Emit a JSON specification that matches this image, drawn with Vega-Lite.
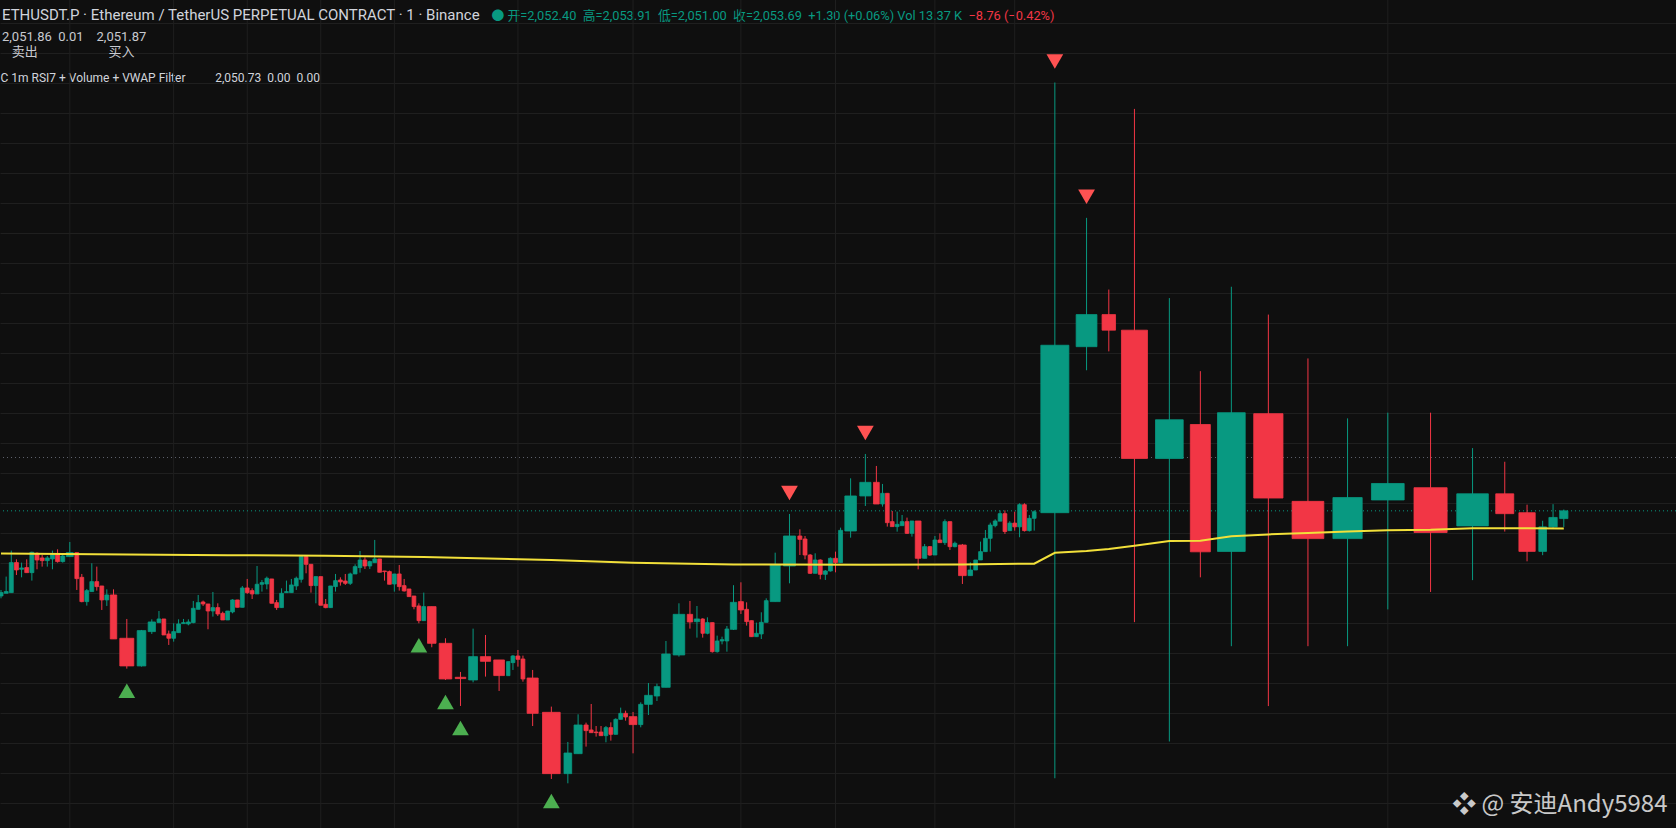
{
  "$schema": "https://vega.github.io/schema/vega-lite/v6.json",
  "description": "ETHUSDT.P 1m volume candles with VWAP and RSI7 signals",
  "width": 1676,
  "height": 828,
  "autosize": {"type": "none"},
  "padding": 0,
  "background": "#0f0f0f",
  "title": {
    "text": "ETHUSDT.P · Ethereum / TetherUS PERPETUAL CONTRACT · 1 · Binance",
    "subtitle": ["2,051.86\u00a0\u00a00.01\u00a0\u00a0\u00a0\u00a02,051.87", "\u200c\u00a0\u00a0\u00a0卖出\u00a0\u00a0\u00a0\u00a0\u00a0\u00a0\u00a0\u00a0\u00a0\u00a0\u00a0\u00a0\u00a0\u00a0\u00a0\u00a0\u00a0\u00a0\u00a0\u00a0\u00a0\u00a0买入"],
    "orient": "top",
    "anchor": "start",
    "frame": "group",
    "offset": -59,
    "dx": 2,
    "font": "Roboto, 'Noto Sans CJK SC'",
    "fontSize": 15,
    "fontWeight": "normal",
    "color": "#d1d4dc",
    "subtitleFont": "Roboto, 'Noto Sans CJK SC'",
    "subtitleFontSize": 13,
    "subtitleLineHeight": 15,
    "subtitlePadding": 8,
    "subtitleColor": "#c8cad0"
  },
  "data": {
    "values": [
      {"i": 1, "o": 2039.5, "h": 2040.5, "l": 2039.11, "c": 2040.06, "v": 6.43, "vw": 2046.6},
      {"i": 2, "o": 2039.95, "h": 2042.73, "l": 2039.95, "c": 2040.23, "v": 6.43},
      {"i": 3, "o": 2040.06, "h": 2047.06, "l": 2040.06, "c": 2045.06, "v": 6.43},
      {"i": 4, "o": 2045.06, "h": 2045.61, "l": 2043.0, "c": 2043.84, "v": 6.43},
      {"i": 5, "o": 2043.95, "h": 2045.06, "l": 2042.61, "c": 2044.17, "v": 6.43},
      {"i": 6, "o": 2044.23, "h": 2045.61, "l": 2043.39, "c": 2043.39, "v": 6.43},
      {"i": 7, "o": 2043.39, "h": 2046.89, "l": 2042.06, "c": 2046.78, "v": 6.43},
      {"i": 8, "o": 2046.61, "h": 2046.78, "l": 2043.95, "c": 2045.5, "v": 6.43},
      {"i": 9, "o": 2045.84, "h": 2046.34, "l": 2044.39, "c": 2045.39, "v": 6.43},
      {"i": 10, "o": 2045.39, "h": 2046.17, "l": 2044.39, "c": 2045.84, "v": 6.43},
      {"i": 11, "o": 2045.67, "h": 2047.06, "l": 2043.95, "c": 2046.34, "v": 6.43},
      {"i": 12, "o": 2046.34, "h": 2047.28, "l": 2045.06, "c": 2045.23, "v": 6.43},
      {"i": 13, "o": 2045.23, "h": 2046.61, "l": 2045.06, "c": 2046.17, "v": 6.43},
      {"i": 14, "o": 2046.06, "h": 2048.5, "l": 2046.06, "c": 2046.73, "v": 11.25},
      {"i": 15, "o": 2046.73, "h": 2046.73, "l": 2040.5, "c": 2042.39, "v": 6.25},
      {"i": 16, "o": 2042.61, "h": 2043.17, "l": 2038.45, "c": 2038.56, "v": 6.25},
      {"i": 17, "o": 2038.56, "h": 2040.67, "l": 2037.89, "c": 2040.39, "v": 6.25},
      {"i": 18, "o": 2040.23, "h": 2044.95, "l": 2040.23, "c": 2041.89, "v": 6.25},
      {"i": 19, "o": 2041.89, "h": 2044.39, "l": 2040.39, "c": 2041.06, "v": 6.25},
      {"i": 20, "o": 2041.17, "h": 2041.17, "l": 2037.17, "c": 2038.84, "v": 6.25},
      {"i": 21, "o": 2038.84, "h": 2040.61, "l": 2037.84, "c": 2039.67, "v": 6.25},
      {"i": 22, "o": 2039.67, "h": 2040.61, "l": 2032.34, "c": 2032.34, "v": 10.5},
      {"i": 23, "o": 2032.45, "h": 2035.67, "l": 2027.39, "c": 2027.84, "v": 22.75, "sig": "B", "vw": 2046.4},
      {"i": 24, "o": 2027.84, "h": 2033.84, "l": 2027.73, "c": 2033.73, "v": 14},
      {"i": 25, "o": 2033.56, "h": 2035.61, "l": 2033.17, "c": 2035.17, "v": 11.75},
      {"i": 26, "o": 2035.06, "h": 2037.0, "l": 2035.06, "c": 2035.67, "v": 6.13},
      {"i": 27, "o": 2035.67, "h": 2035.67, "l": 2033.0, "c": 2033.0, "v": 6.13},
      {"i": 28, "o": 2033.17, "h": 2033.73, "l": 2031.34, "c": 2032.45, "v": 6.13},
      {"i": 29, "o": 2032.45, "h": 2034.95, "l": 2031.89, "c": 2033.56, "v": 6.13},
      {"i": 30, "o": 2033.39, "h": 2035.61, "l": 2033.39, "c": 2034.84, "v": 6.13},
      {"i": 31, "o": 2034.89, "h": 2035.67, "l": 2034.89, "c": 2035.06, "v": 6.13},
      {"i": 32, "o": 2034.84, "h": 2035.61, "l": 2034.61, "c": 2035.17, "v": 6.13},
      {"i": 33, "o": 2035.06, "h": 2038.67, "l": 2034.95, "c": 2037.45, "v": 6.13},
      {"i": 34, "o": 2037.28, "h": 2039.67, "l": 2037.28, "c": 2038.39, "v": 6.13},
      {"i": 35, "o": 2038.5, "h": 2038.73, "l": 2037.84, "c": 2038.17, "v": 6.13},
      {"i": 36, "o": 2038.17, "h": 2038.17, "l": 2033.95, "c": 2037.0, "v": 6.13},
      {"i": 37, "o": 2037.0, "h": 2040.17, "l": 2036.06, "c": 2037.56, "v": 6.13},
      {"i": 38, "o": 2037.56, "h": 2038.28, "l": 2036.17, "c": 2036.5, "v": 6.13},
      {"i": 39, "o": 2036.61, "h": 2036.89, "l": 2035.5, "c": 2035.5, "v": 6.13},
      {"i": 40, "o": 2035.5, "h": 2037.0, "l": 2035.5, "c": 2037.0, "v": 6.13, "vw": 2046.3},
      {"i": 41, "o": 2036.84, "h": 2038.95, "l": 2036.61, "c": 2038.84, "v": 6.13},
      {"i": 42, "o": 2038.84, "h": 2038.84, "l": 2037.61, "c": 2037.61, "v": 6.13},
      {"i": 43, "o": 2037.61, "h": 2041.17, "l": 2037.61, "c": 2040.84, "v": 6.13},
      {"i": 44, "o": 2040.84, "h": 2042.34, "l": 2039.84, "c": 2040.06, "v": 6.13},
      {"i": 45, "o": 2040.39, "h": 2040.78, "l": 2039.0, "c": 2039.84, "v": 6.13},
      {"i": 46, "o": 2039.84, "h": 2044.5, "l": 2039.84, "c": 2041.45, "v": 6.13},
      {"i": 47, "o": 2041.45, "h": 2042.17, "l": 2040.23, "c": 2041.73, "v": 6.13},
      {"i": 48, "o": 2041.5, "h": 2042.73, "l": 2040.61, "c": 2042.45, "v": 6.13},
      {"i": 49, "o": 2042.34, "h": 2042.34, "l": 2038.28, "c": 2038.28, "v": 6.13},
      {"i": 50, "o": 2038.39, "h": 2038.84, "l": 2037.17, "c": 2037.56, "v": 6.13},
      {"i": 51, "o": 2037.56, "h": 2040.78, "l": 2037.56, "c": 2039.95, "v": 6.13},
      {"i": 52, "o": 2040.06, "h": 2042.06, "l": 2040.06, "c": 2040.23, "v": 6.13},
      {"i": 53, "o": 2040.06, "h": 2042.34, "l": 2040.06, "c": 2041.34, "v": 6.13},
      {"i": 54, "o": 2041.17, "h": 2042.73, "l": 2040.5, "c": 2042.45, "v": 6.13},
      {"i": 55, "o": 2042.28, "h": 2046.17, "l": 2041.73, "c": 2046.06, "v": 6.13},
      {"i": 56, "o": 2046.06, "h": 2046.17, "l": 2043.28, "c": 2044.78, "v": 6.13},
      {"i": 57, "o": 2044.78, "h": 2044.78, "l": 2040.06, "c": 2041.23, "v": 6.13},
      {"i": 58, "o": 2041.23, "h": 2042.73, "l": 2038.28, "c": 2042.73, "v": 6.13},
      {"i": 59, "o": 2042.73, "h": 2042.73, "l": 2037.95, "c": 2037.95, "v": 6.13},
      {"i": 60, "o": 2038.11, "h": 2039.0, "l": 2037.45, "c": 2037.56, "v": 6.13, "vw": 2046.2},
      {"i": 61, "o": 2037.56, "h": 2041.17, "l": 2037.56, "c": 2041.17, "v": 6.13},
      {"i": 62, "o": 2041.06, "h": 2043.17, "l": 2040.23, "c": 2042.06, "v": 6.13},
      {"i": 63, "o": 2042.17, "h": 2042.61, "l": 2041.23, "c": 2041.84, "v": 6.13},
      {"i": 64, "o": 2042.0, "h": 2043.17, "l": 2041.34, "c": 2041.61, "v": 6.13},
      {"i": 65, "o": 2041.61, "h": 2043.39, "l": 2041.34, "c": 2043.17, "v": 6.13},
      {"i": 66, "o": 2043.17, "h": 2044.78, "l": 2043.17, "c": 2044.39, "v": 6.13},
      {"i": 67, "o": 2044.23, "h": 2047.0, "l": 2043.39, "c": 2045.5, "v": 6.13},
      {"i": 68, "o": 2045.5, "h": 2045.95, "l": 2044.0, "c": 2044.5, "v": 6.13},
      {"i": 69, "o": 2044.5, "h": 2045.39, "l": 2044.0, "c": 2045.23, "v": 6.13},
      {"i": 70, "o": 2045.06, "h": 2048.84, "l": 2045.06, "c": 2045.67, "v": 6.13},
      {"i": 71, "o": 2045.67, "h": 2045.67, "l": 2043.45, "c": 2043.45, "v": 6.13},
      {"i": 72, "o": 2043.67, "h": 2043.67, "l": 2042.06, "c": 2043.56, "v": 6.13},
      {"i": 73, "o": 2043.56, "h": 2043.73, "l": 2041.45, "c": 2041.45, "v": 6.13},
      {"i": 74, "o": 2041.5, "h": 2043.17, "l": 2040.23, "c": 2043.17, "v": 6.13},
      {"i": 75, "o": 2043.17, "h": 2044.67, "l": 2040.39, "c": 2041.06, "v": 6.13},
      {"i": 76, "o": 2041.23, "h": 2042.34, "l": 2040.23, "c": 2040.34, "v": 6.13},
      {"i": 77, "o": 2040.67, "h": 2040.67, "l": 2039.39, "c": 2039.39, "v": 6.13},
      {"i": 78, "o": 2039.5, "h": 2039.5, "l": 2037.28, "c": 2037.73, "v": 6.13},
      {"i": 79, "o": 2037.84, "h": 2038.28, "l": 2034.95, "c": 2035.39, "v": 6.13, "sig": "B"},
      {"i": 80, "o": 2035.39, "h": 2040.06, "l": 2035.39, "c": 2037.73, "v": 6.13, "vw": 2046.0},
      {"i": 81, "o": 2037.73, "h": 2037.73, "l": 2030.95, "c": 2031.61, "v": 13.88},
      {"i": 82, "o": 2031.61, "h": 2032.45, "l": 2025.5, "c": 2025.67, "v": 20.38, "sig": "B"},
      {"i": 83, "o": 2025.95, "h": 2026.84, "l": 2021.17, "c": 2025.73, "v": 17.13, "sig": "B"},
      {"i": 84, "o": 2025.5, "h": 2034.06, "l": 2025.11, "c": 2029.39, "v": 14.38},
      {"i": 85, "o": 2029.39, "h": 2033.0, "l": 2026.06, "c": 2028.61, "v": 16.63},
      {"i": 86, "o": 2028.84, "h": 2028.84, "l": 2023.67, "c": 2026.23, "v": 17.38},
      {"i": 87, "o": 2026.22, "h": 2028.56, "l": 2026.22, "c": 2028.56, "v": 5.5},
      {"i": 88, "o": 2028.39, "h": 2029.67, "l": 2027.17, "c": 2029.5, "v": 6.25},
      {"i": 89, "o": 2029.5, "h": 2030.5, "l": 2027.72, "c": 2028.94, "v": 6.25},
      {"i": 90, "o": 2029.0, "h": 2029.56, "l": 2025.22, "c": 2025.67, "v": 6.25},
      {"i": 91, "o": 2025.83, "h": 2027.17, "l": 2017.83, "c": 2019.94, "v": 18},
      {"i": 92, "o": 2020.11, "h": 2021.06, "l": 2009.0, "c": 2009.89, "v": 28.75, "sig": "B", "vw": 2045.5},
      {"i": 93, "o": 2009.89, "h": 2015.17, "l": 2008.28, "c": 2013.33, "v": 12.5},
      {"i": 94, "o": 2013.22, "h": 2019.78, "l": 2013.22, "c": 2018.0, "v": 13.13},
      {"i": 95, "o": 2018.0, "h": 2018.39, "l": 2014.39, "c": 2017.06, "v": 6.75},
      {"i": 96, "o": 2017.17, "h": 2021.5, "l": 2016.72, "c": 2016.72, "v": 6.14},
      {"i": 97, "o": 2016.83, "h": 2017.83, "l": 2016.06, "c": 2016.72, "v": 6.14},
      {"i": 98, "o": 2016.83, "h": 2017.83, "l": 2016.22, "c": 2016.22, "v": 6.14},
      {"i": 99, "o": 2016.22, "h": 2017.83, "l": 2015.11, "c": 2017.56, "v": 6.14},
      {"i": 100, "o": 2017.56, "h": 2018.44, "l": 2015.39, "c": 2016.44, "v": 6.14},
      {"i": 101, "o": 2016.44, "h": 2019.11, "l": 2016.44, "c": 2018.94, "v": 6.14},
      {"i": 102, "o": 2018.94, "h": 2020.89, "l": 2018.94, "c": 2019.94, "v": 6.14},
      {"i": 103, "o": 2019.94, "h": 2020.39, "l": 2018.72, "c": 2019.33, "v": 6.14},
      {"i": 104, "o": 2019.39, "h": 2020.17, "l": 2013.28, "c": 2018.06, "v": 12.5, "vw": 2045.05},
      {"i": 105, "o": 2018.06, "h": 2021.78, "l": 2017.61, "c": 2021.44, "v": 6.75},
      {"i": 106, "o": 2021.44, "h": 2025.0, "l": 2019.67, "c": 2022.94, "v": 12.5},
      {"i": 107, "o": 2022.83, "h": 2024.89, "l": 2022.0, "c": 2024.39, "v": 8.75},
      {"i": 108, "o": 2024.28, "h": 2032.0, "l": 2024.28, "c": 2029.83, "v": 13.75},
      {"i": 109, "o": 2029.67, "h": 2038.28, "l": 2029.39, "c": 2036.44, "v": 18.75},
      {"i": 110, "o": 2036.44, "h": 2038.67, "l": 2034.06, "c": 2035.17, "v": 8.75},
      {"i": 111, "o": 2035.22, "h": 2037.83, "l": 2032.56, "c": 2035.67, "v": 8.75},
      {"i": 112, "o": 2035.67, "h": 2035.78, "l": 2032.56, "c": 2033.28, "v": 5.63},
      {"i": 113, "o": 2033.28, "h": 2035.94, "l": 2033.11, "c": 2035.06, "v": 6.1},
      {"i": 114, "o": 2035.06, "h": 2035.06, "l": 2030.06, "c": 2030.22, "v": 6.1},
      {"i": 115, "o": 2030.22, "h": 2032.89, "l": 2030.06, "c": 2032.0, "v": 6.1},
      {"i": 116, "o": 2032.0, "h": 2032.72, "l": 2031.44, "c": 2032.22, "v": 6.1},
      {"i": 117, "o": 2032.0, "h": 2034.5, "l": 2030.22, "c": 2034.0, "v": 6.1},
      {"i": 118, "o": 2033.94, "h": 2041.3, "l": 2033.83, "c": 2038.44, "v": 10.38, "vw": 2044.75},
      {"i": 119, "o": 2038.56, "h": 2041.78, "l": 2036.5, "c": 2037.17, "v": 8.13},
      {"i": 120, "o": 2037.28, "h": 2038.44, "l": 2034.56, "c": 2035.22, "v": 6.13},
      {"i": 121, "o": 2035.39, "h": 2035.39, "l": 2032.72, "c": 2032.72, "v": 6.13},
      {"i": 122, "o": 2032.72, "h": 2035.06, "l": 2032.72, "c": 2033.28, "v": 6.13},
      {"i": 123, "o": 2033.17, "h": 2036.78, "l": 2032.33, "c": 2035.11, "v": 6.13},
      {"i": 124, "o": 2035.11, "h": 2039.11, "l": 2035.11, "c": 2038.72, "v": 6.13},
      {"i": 125, "o": 2038.56, "h": 2046.72, "l": 2038.56, "c": 2044.67, "v": 16.25},
      {"i": 126, "o": 2044.5, "h": 2053.17, "l": 2041.61, "c": 2049.5, "v": 19.5, "sig": "S"},
      {"i": 127, "o": 2049.5, "h": 2050.61, "l": 2046.33, "c": 2048.94, "v": 6.5},
      {"i": 128, "o": 2049.0, "h": 2049.5, "l": 2045.61, "c": 2046.33, "v": 6.35},
      {"i": 129, "o": 2046.33, "h": 2046.5, "l": 2043.17, "c": 2043.28, "v": 6.35},
      {"i": 130, "o": 2043.28, "h": 2046.61, "l": 2043.28, "c": 2045.5, "v": 6.35},
      {"i": 131, "o": 2045.5, "h": 2045.61, "l": 2042.28, "c": 2043.11, "v": 6.35},
      {"i": 132, "o": 2043.11, "h": 2043.83, "l": 2042.17, "c": 2043.67, "v": 6.35},
      {"i": 133, "o": 2043.67, "h": 2045.94, "l": 2043.56, "c": 2045.78, "v": 6.35},
      {"i": 134, "o": 2045.78, "h": 2046.89, "l": 2043.44, "c": 2045.06, "v": 6.35},
      {"i": 135, "o": 2045.06, "h": 2050.89, "l": 2045.06, "c": 2050.44, "v": 6.35},
      {"i": 136, "o": 2050.33, "h": 2059.11, "l": 2049.22, "c": 2056.17, "v": 18.75},
      {"i": 137, "o": 2056.17, "h": 2063.17, "l": 2054.5, "c": 2058.44, "v": 18.13, "sig": "S", "vw": 2044.7},
      {"i": 138, "o": 2058.44, "h": 2061.17, "l": 2054.83, "c": 2054.83, "v": 9.38},
      {"i": 139, "o": 2054.83, "h": 2058.17, "l": 2054.39, "c": 2056.61, "v": 5.88},
      {"i": 140, "o": 2056.61, "h": 2056.61, "l": 2051.06, "c": 2051.72, "v": 6.16},
      {"i": 141, "o": 2051.89, "h": 2053.67, "l": 2051.06, "c": 2051.06, "v": 6.16},
      {"i": 142, "o": 2051.06, "h": 2053.56, "l": 2050.22, "c": 2051.44, "v": 6.16},
      {"i": 143, "o": 2051.22, "h": 2053.0, "l": 2051.22, "c": 2051.89, "v": 6.16},
      {"i": 144, "o": 2051.89, "h": 2052.56, "l": 2049.83, "c": 2049.94, "v": 6.16},
      {"i": 145, "o": 2049.94, "h": 2052.0, "l": 2049.39, "c": 2052.0, "v": 6.16},
      {"i": 146, "o": 2052.0, "h": 2052.0, "l": 2043.94, "c": 2045.78, "v": 9.38},
      {"i": 147, "o": 2045.78, "h": 2048.17, "l": 2045.78, "c": 2047.72, "v": 6.88},
      {"i": 148, "o": 2047.72, "h": 2047.83, "l": 2046.17, "c": 2046.33, "v": 6.25},
      {"i": 149, "o": 2046.33, "h": 2049.5, "l": 2046.33, "c": 2048.83, "v": 6.25},
      {"i": 150, "o": 2048.83, "h": 2049.94, "l": 2048.39, "c": 2048.39, "v": 6.25},
      {"i": 151, "o": 2048.39, "h": 2052.28, "l": 2048.0, "c": 2051.89, "v": 6.25},
      {"i": 152, "o": 2051.89, "h": 2051.89, "l": 2047.17, "c": 2047.72, "v": 6.25},
      {"i": 153, "o": 2047.72, "h": 2048.56, "l": 2047.61, "c": 2048.28, "v": 6.25},
      {"i": 154, "o": 2048.0, "h": 2048.17, "l": 2041.5, "c": 2042.89, "v": 12.5, "vw": 2044.75},
      {"i": 155, "o": 2042.89, "h": 2045.11, "l": 2042.89, "c": 2043.83, "v": 7.25},
      {"i": 156, "o": 2043.83, "h": 2045.5, "l": 2043.83, "c": 2045.5, "v": 6.1},
      {"i": 157, "o": 2045.5, "h": 2048.56, "l": 2045.5, "c": 2046.89, "v": 6.1},
      {"i": 158, "o": 2046.89, "h": 2050.5, "l": 2046.89, "c": 2049.11, "v": 6.1},
      {"i": 159, "o": 2049.11, "h": 2051.72, "l": 2046.89, "c": 2051.33, "v": 6.1},
      {"i": 160, "o": 2051.22, "h": 2052.28, "l": 2050.94, "c": 2052.0, "v": 6.1},
      {"i": 161, "o": 2051.97, "h": 2053.77, "l": 2051.97, "c": 2053.22, "v": 6.1},
      {"i": 162, "o": 2053.22, "h": 2053.77, "l": 2049.84, "c": 2050.24, "v": 6.1},
      {"i": 163, "o": 2050.39, "h": 2051.97, "l": 2050.39, "c": 2051.65, "v": 6.1},
      {"i": 164, "o": 2051.65, "h": 2053.54, "l": 2050.39, "c": 2051.02, "v": 6.1},
      {"i": 165, "o": 2051.02, "h": 2054.95, "l": 2049.29, "c": 2054.72, "v": 6.1},
      {"i": 166, "o": 2054.72, "h": 2054.95, "l": 2050.24, "c": 2050.39, "v": 6.1},
      {"i": 167, "o": 2050.39, "h": 2052.99, "l": 2050.24, "c": 2052.44, "v": 6.1},
      {"i": 168, "o": 2052.44, "h": 2053.77, "l": 2050.39, "c": 2053.54, "v": 6.1, "vw": 2044.89},
      {"i": 169, "o": 2053.38, "h": 2125.08, "l": 2009.12, "c": 2081.29, "v": 45.5, "sig": "S", "vw": 2046.7},
      {"i": 170, "o": 2081.05, "h": 2102.52, "l": 2077.12, "c": 2086.4, "v": 33.75, "sig": "S", "vw": 2047.0},
      {"i": 171, "o": 2086.4, "h": 2090.57, "l": 2080.27, "c": 2083.8, "v": 21.88, "vw": 2047.33},
      {"i": 172, "o": 2083.8, "h": 2120.68, "l": 2035.14, "c": 2062.42, "v": 42.25, "vw": 2047.88},
      {"i": 173, "o": 2062.42, "h": 2089.15, "l": 2015.25, "c": 2068.87, "v": 45, "vw": 2048.66},
      {"i": 174, "o": 2068.08, "h": 2076.97, "l": 2042.61, "c": 2046.86, "v": 32.5, "vw": 2048.7},
      {"i": 175, "o": 2046.93, "h": 2091.04, "l": 2031.13, "c": 2070.05, "v": 45, "vw": 2049.45},
      {"i": 176, "o": 2069.89, "h": 2086.4, "l": 2021.15, "c": 2055.82, "v": 47.5, "vw": 2049.76},
      {"i": 177, "o": 2055.27, "h": 2079.09, "l": 2031.13, "c": 2049.06, "v": 51.5, "vw": 2050.0},
      {"i": 178, "o": 2049.06, "h": 2069.1, "l": 2031.13, "c": 2055.9, "v": 47.5, "vw": 2050.24},
      {"i": 179, "o": 2055.5, "h": 2070.05, "l": 2037.26, "c": 2058.25, "v": 53.13, "vw": 2050.47},
      {"i": 180, "o": 2057.55, "h": 2070.05, "l": 2040.17, "c": 2050.08, "v": 53.75, "vw": 2050.55},
      {"i": 181, "o": 2051.18, "h": 2064.15, "l": 2042.14, "c": 2056.53, "v": 51.25, "vw": 2050.79},
      {"i": 182, "o": 2056.53, "h": 2061.87, "l": 2050.24, "c": 2053.22, "v": 29.25},
      {"i": 183, "o": 2053.38, "h": 2054.72, "l": 2045.28, "c": 2046.93, "v": 26.5, "vw": 2050.79},
      {"i": 184, "o": 2046.93, "h": 2052.04, "l": 2046.3, "c": 2051.02, "v": 12.5},
      {"i": 185, "o": 2051.02, "h": 2054.8, "l": 2050.79, "c": 2052.59, "v": 13.5},
      {"i": 186, "o": 2052.4, "h": 2053.91, "l": 2051.0, "c": 2053.69, "v": 13.37, "vw": 2050.73}
    ]
  },
  "transform": [
    {"window": [{"op": "sum", "field": "v", "as": "ce"}], "sort": [{"field": "i"}], "frame": [null, 0]},
    {"calculate": "datum.ce - 0.885 * datum.v", "as": "x0"},
    {"calculate": "datum.ce - 0.115 * datum.v", "as": "x1"},
    {"calculate": "datum.ce - 0.5 * datum.v", "as": "xm"}
  ],
  "layer": [
    {
      "transform": [{"filter": "datum.i % 15 == 14"}],
      "mark": {"type": "rule", "color": "#1f1f1f", "strokeWidth": 1},
      "encoding": {
        "x": {"field": "xm", "type": "quantitative", "scale": {"domain": [1.96, 2096.96], "nice": false, "zero": false}, "axis": null}
      }
    },
    {
      "transform": [{"filter": "datum.i == 186"}],
      "mark": {"type": "rule", "color": "#5d606b", "strokeWidth": 1, "strokeDash": [1, 3]},
      "encoding": {
        "y": {"datum": 2062.58, "type": "quantitative", "scale": {"domain": [2000.83, 2138.83], "nice": false, "zero": false}, "axis": null}
      }
    },
    {
      "transform": [{"filter": "datum.i == 186"}],
      "mark": {"type": "rule", "color": "#089981", "strokeWidth": 1, "strokeDash": [1, 3]},
      "encoding": {
        "y": {"datum": 2053.69, "type": "quantitative", "scale": {"domain": [2000.83, 2138.83], "nice": false, "zero": false}, "axis": null}
      }
    },
    {
      "mark": {"type": "rule", "strokeWidth": 1},
      "encoding": {
        "x": {
          "field": "xm", "type": "quantitative",
          "scale": {"domain": [1.96, 2096.96], "nice": false, "zero": false},
          "axis": {
            "orient": "top",
            "title": "● 开=2,052.40\u00a0\u00a0高=2,053.91\u00a0\u00a0低=2,051.00\u00a0\u00a0收=2,053.69\u00a0\u00a0+1.30 (+0.06%) Vol 13.37 K",
            "titleX": 491, "titleY": 19, "titleAlign": "left", "titleBaseline": "alphabetic",
            "titleColor": "#089981", "titleFontSize": 12.8, "titleFontWeight": "normal",
            "titleFont": "Roboto, 'Noto Sans CJK SC'"
          }
        },
        "y": {
          "field": "l", "type": "quantitative",
          "scale": {"domain": [2000.83, 2138.83], "nice": false, "zero": false},
          "axis": {
            "orient": "left",
            "grid": true, "gridColor": "#1f1f1f", "gridWidth": 1,
            "values": [2005, 2010, 2015, 2020, 2025, 2030, 2035, 2040, 2045, 2050, 2055, 2060, 2065, 2070, 2075, 2080, 2085, 2090, 2095, 2100, 2105, 2110, 2115, 2120, 2125, 2130, 2135],
            "title": "C 1m RSI7 + Volume + VWAP Filter\u00a0\u00a0\u00a0\u00a0\u00a0\u00a0\u00a0\u00a0\u00a0\u00a02,050.73\u00a0\u00a00.00\u00a0\u00a00.00",
            "titleAngle": 0, "titleX": 0, "titleY": 77, "titleAlign": "left", "titleBaseline": "middle",
            "titleColor": "#d1d4dc", "titleFontSize": 12, "titleFontWeight": "normal",
            "titleFont": "Roboto, 'Noto Sans CJK SC'"
          }
        },
        "y2": {"field": "h"},
        "color": {"condition": {"test": "datum.c >= datum.o", "value": "#089981"}, "value": "#f23645"}
      }
    },
    {
      "mark": {"type": "rect", "strokeWidth": 0.8},
      "encoding": {
        "x": {
          "field": "x0", "type": "quantitative",
          "scale": {"domain": [1.96, 2096.96], "nice": false, "zero": false},
          "axis": {
            "orient": "bottom",
            "title": "❖ @ 安迪Andy5984",
            "titleX": 1667, "titleY": -17, "titleAlign": "right", "titleBaseline": "alphabetic",
            "titleColor": "#c9c9c9", "titleFontSize": 24, "titleFontWeight": "normal",
            "titleFont": "'Noto Sans CJK SC'"
          }
        },
        "x2": {"field": "x1"},
        "y": {
          "field": "o", "type": "quantitative",
          "scale": {"domain": [2000.83, 2138.83], "nice": false, "zero": false},
          "axis": {
            "orient": "right",
            "title": "−8.76 (−0.42%)",
            "titleAngle": 0, "titleX": -708, "titleY": 19, "titleAlign": "left", "titleBaseline": "alphabetic",
            "titleColor": "#f23645", "titleFontSize": 12.8, "titleFontWeight": "normal",
            "titleFont": "Roboto, 'Noto Sans CJK SC'"
          }
        },
        "y2": {"field": "c"},
        "fill": {"condition": {"test": "datum.c >= datum.o", "value": "#089981"}, "value": "#f23645"},
        "stroke": {"condition": {"test": "datum.c >= datum.o", "value": "#089981"}, "value": "#f23645"}
      }
    },
    {
      "transform": [{"filter": "isValid(datum.vw)"}],
      "mark": {"type": "line", "color": "#f2e03a", "strokeWidth": 2},
      "encoding": {
        "x": {"field": "xm", "type": "quantitative", "scale": {"domain": [1.96, 2096.96], "nice": false, "zero": false}, "axis": null},
        "y": {"field": "vw", "type": "quantitative", "scale": {"domain": [2000.83, 2138.83], "nice": false, "zero": false}, "axis": null}
      }
    },
    {
      "transform": [{"filter": "datum.sig == 'B'"}],
      "mark": {"type": "point", "shape": "triangle-up", "filled": true, "size": 280, "color": "#4caf50", "opacity": 1, "yOffset": 22},
      "encoding": {
        "x": {"field": "xm", "type": "quantitative", "scale": {"domain": [1.96, 2096.96], "nice": false, "zero": false}, "axis": null},
        "y": {"field": "l", "type": "quantitative", "scale": {"domain": [2000.83, 2138.83], "nice": false, "zero": false}, "axis": null}
      }
    },
    {
      "transform": [{"filter": "datum.sig == 'S'"}],
      "mark": {"type": "point", "shape": "triangle-down", "filled": true, "size": 280, "color": "#ff5252", "opacity": 1, "yOffset": -21},
      "encoding": {
        "x": {"field": "xm", "type": "quantitative", "scale": {"domain": [1.96, 2096.96], "nice": false, "zero": false}, "axis": null},
        "y": {"field": "h", "type": "quantitative", "scale": {"domain": [2000.83, 2138.83], "nice": false, "zero": false}, "axis": null}
      }
    }
  ],
  "resolve": {"axis": {"x": "independent", "y": "independent"}},
  "config": {
    "view": {"stroke": null},
    "axis": {"labels": false, "ticks": false, "domain": false, "grid": false, "titlePadding": 0}
  }
}
